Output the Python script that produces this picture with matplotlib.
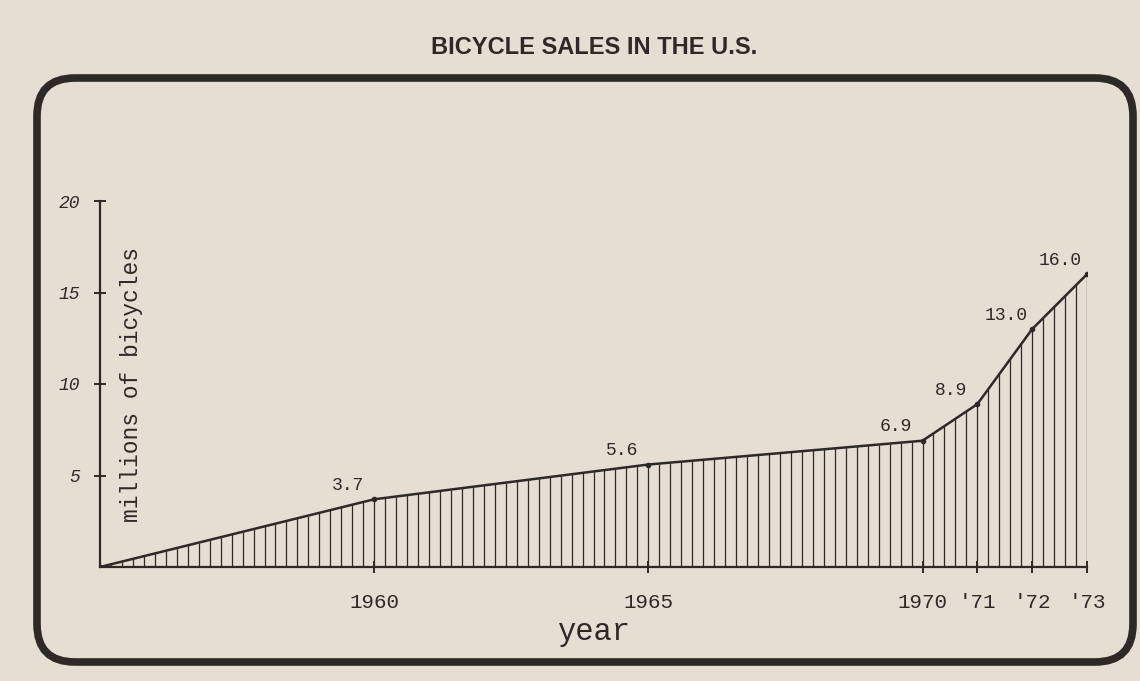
import matplotlib.pyplot as plt
from matplotlib.patches import FancyBboxPatch
import numpy as np

years = [1955, 1960, 1965, 1970, 1971, 1972, 1973]
sales = [0.0, 3.7, 5.6, 6.9, 8.9, 13.0, 16.0]
labels = ["", "3.7", "5.6", "6.9", "8.9", "13.0", "16.0"]
xtick_pos = [1960, 1965, 1970, 1971, 1972, 1973]
xtick_lab = ["1960", "1965", "1970", "'71", "'72", "'73"]
ytick_pos = [5, 10, 15, 20]

ink = "#2e2927"
paper = "#e6ddd3"
hand = "Liberation Mono"

fig = plt.figure(figsize=(11.4, 6.81), dpi=100, facecolor=paper)

# frame drawn in pixel units
bg = fig.add_axes([0, 0, 1, 1])
bg.set_xlim(0, 1140)
bg.set_ylim(681, 0)
bg.axis("off")
bg.add_patch(FancyBboxPatch((37, 78), 1096, 584,
                            boxstyle="round,pad=0,rounding_size=38",
                            fill=False, lw=5.5, ec=ink))
bg.text(594, 48, "BICYCLE SALES IN THE U.S.", ha="center", va="center",
        fontsize=17, fontweight="bold", family="Liberation Sans", color=ink)

ax = fig.add_axes([100 / 1140, 1 - 567 / 681, 987 / 1140, 366 / 681])
ax.set_facecolor("none")
ax.set_xlim(1955, 1973)
ax.set_ylim(0, 20)

# vertical shading under the curve
xs = np.arange(1955.2, 1973.01, 0.2)
ax.vlines(xs, 0, np.interp(xs, years, sales), color=ink, lw=0.9)
ax.plot(years, sales, color=ink, lw=1.8, marker="o", ms=3)

for x, y, t in zip(years, sales, labels):
    if t:
        ax.annotate(t, (x, y), xytext=(-19, 10), textcoords="offset points",
                    ha="center", va="center", fontsize=13, family=hand, color=ink)

for s in ["top", "right"]:
    ax.spines[s].set_visible(False)
for s in ["left", "bottom"]:
    ax.spines[s].set_color(ink)
    ax.spines[s].set_linewidth(1.6)

ax.set_xticks(xtick_pos)
ax.set_xticklabels(xtick_lab, family=hand, fontsize=15, color=ink)
ax.set_yticks(ytick_pos)
ax.set_yticklabels([str(v) for v in ytick_pos], family=hand, fontsize=13,
                   style="italic", color=ink)
ax.tick_params(axis="x", direction="inout", length=9, width=1.4, color=ink, pad=14)
ax.tick_params(axis="y", direction="inout", length=9, width=1.4, color=ink, pad=10)

ax.text(0.032, 0.5, "millions of bicycles", transform=ax.transAxes, rotation=90,
        ha="center", va="center", fontsize=16.5, family=hand, color=ink)
ax.set_xlabel("year", family=hand, fontsize=22, color=ink, labelpad=4)

fig.savefig("out.png", dpi=100, facecolor=paper)
